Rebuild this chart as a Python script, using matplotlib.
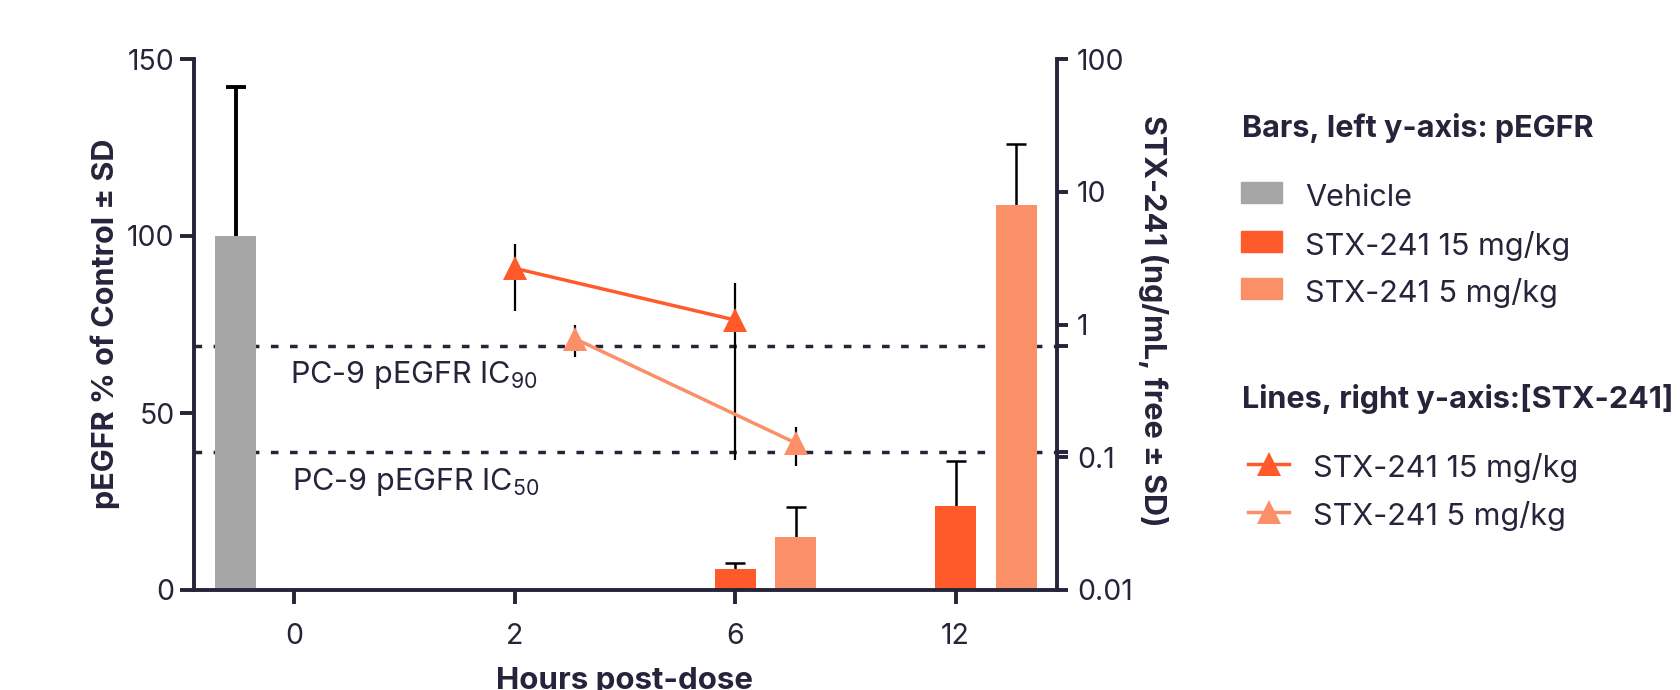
import matplotlib
matplotlib.use('Agg')
import matplotlib.pyplot as plt
from matplotlib.patches import Rectangle
from matplotlib.lines import Line2D
from matplotlib.ticker import FixedLocator, NullFormatter
import numpy as np

plt.rcParams['font.family'] = ['Inter', 'DejaVu Sans']
plt.rcParams['mathtext.fontset'] = 'custom'
plt.rcParams['mathtext.rm'] = 'Inter'
plt.rcParams['mathtext.it'] = 'Inter'
plt.rcParams['mathtext.bf'] = 'Inter:bold'

# ---------------- data ----------------
time_labels = ['0', '2', '6', '12']

vehicle_time = ['0']
vehicle_mean = [100.0]
vehicle_sd = [42.0]

bar_times = ['6', '12']
bar15_mean = [5.9, 23.7]
bar15_sd = [1.7, 12.8]
bar5_mean = [15.0, 108.8]
bar5_sd = [8.4, 17.3]

line_times = ['2', '6']
line15_mean = [2.65, 1.08]
line15_sd = [1.38, 0.985]
line5_mean = [0.78, 0.128]
line5_sd = [0.21, 0.042]

ic90 = 0.69
ic50 = 0.109

left_ticks = [0, 50, 100, 150]
right_ticks = [0.01, 0.1, 1, 10, 100]
right_ticklabels = ['0.01', '0.1', '1', '10', '100']

# ---------------- style ----------------
DARK = '#26243A'
GRAY = '#A6A6A6'
C15 = '#FF5A2A'
C5 = '#FA8F68'
W, H = 1680, 690

def fx(px):
    return px / W

def fy(py):
    return 1 - py / H

fig = plt.figure(figsize=(16.8, 6.9), dpi=100)
ax = fig.add_axes([fx(194), fy(590), fx(1057) - fx(194), fy(59) - fy(590)])
ax2 = ax.twinx()
ax.set_zorder(ax2.get_zorder() + 1)
ax.patch.set_visible(False)

pos = {t: i for i, t in enumerate(time_labels)}
off_vehicle = -0.265
off_5 = 0.275
bw = 0.186


def upper_errorbar(a, x, mean, sd, lw, cap):
    _, caps, _ = a.errorbar(x, mean, yerr=[[0] * len(sd), sd], fmt='none', ecolor='black',
                            elinewidth=lw, capsize=cap, capthick=lw, zorder=1)
    for c in caps:
        if np.allclose(c.get_ydata(), mean):
            c.set_visible(False)


# bars (left axis)
xv = [pos[t] + off_vehicle for t in vehicle_time]
x15 = [pos[t] for t in bar_times]
x5 = [pos[t] + off_5 for t in bar_times]
ax.bar(xv, vehicle_mean, width=bw, color=GRAY, zorder=2)
ax.bar(x15, bar15_mean, width=bw, color=C15, zorder=2)
ax.bar(x5, bar5_mean, width=bw, color=C5, zorder=2)
upper_errorbar(ax, xv, vehicle_mean, vehicle_sd, 2.8, 7.5)
upper_errorbar(ax, x15, bar15_mean, bar15_sd, 1.8, 7.2)
upper_errorbar(ax, x5, bar5_mean, bar5_sd, 1.8, 7.2)

# lines (right axis, log)
ax2.set_yscale('log')
lx15 = [pos[t] for t in line_times]
lx5 = [pos[t] + off_5 for t in line_times]
ax2.errorbar(lx15, line15_mean, yerr=line15_sd, color=C15, lw=2.5, marker='^', ms=17.5,
             mew=0, ecolor='black', elinewidth=1.6, capsize=8.2, capthick=1.6, zorder=3)
ax2.errorbar(lx5, line5_mean, yerr=line5_sd, color=C5, lw=2.5, marker='^', ms=17.5,
             mew=0, ecolor='black', elinewidth=1.6, capsize=8.2, capthick=1.6, zorder=3)

# IC reference lines
for v in (ic90, ic50):
    ax2.axhline(v, color=DARK, lw=2.5, dashes=(2.2, 3.3), zorder=1)

fig.text(fx(290), fy(383), r'PC-9 pEGFR IC$_{90}$', fontsize=22, color=DARK,
         va='baseline', ha='left')
fig.text(fx(292), fy(490), r'PC-9 pEGFR IC$_{50}$', fontsize=22, color=DARK,
         va='baseline', ha='left')

# axes limits/ticks
ax.set_xlim(-0.455, 3.46)
ax.set_ylim(0, 150)
ax2.set_ylim(0.01, 100)
ax.set_xticks(range(len(time_labels)))
ax.set_xticklabels(time_labels)
ax.set_yticks(left_ticks)
ax2.yaxis.set_major_locator(FixedLocator(right_ticks))
ax2.set_yticklabels(right_ticklabels)
ax2.yaxis.set_minor_locator(FixedLocator([ic50, ic90]))
ax2.yaxis.set_minor_formatter(NullFormatter())

for a in (ax, ax2):
    a.spines['top'].set_visible(False)
    for s in a.spines.values():
        s.set_linewidth(2.8)
        s.set_color(DARK)
ax.spines['right'].set_visible(False)
ax2.spines['left'].set_visible(False)
ax2.spines['bottom'].set_visible(False)

ax.tick_params(axis='y', length=10, width=2.8, color=DARK, labelsize=20.5, labelcolor=DARK, pad=4)
ax.tick_params(axis='x', length=10, width=2.8, color=DARK, labelsize=20.5, labelcolor=DARK, pad=14)
ax2.tick_params(axis='y', which='both', length=8, width=2.8, color=DARK, labelsize=20.5,
                labelcolor=DARK, pad=6.5)

# axis labels
fig.text(fx(105), fy(324), 'pEGFR % of Control ± SD', rotation=90, fontsize=22,
         fontweight='bold', color=DARK, ha='center', va='center')
fig.text(fx(1153), fy(321), 'STX-241 (ng/mL, free ± SD)', rotation=-90, fontsize=22,
         fontweight='bold', color=DARK, ha='center', va='center')
fig.text(fx(625), fy(689), 'Hours post-dose', fontsize=22.5, fontweight='bold', color=DARK,
         ha='center', va='baseline')

# legend (manual)
fig.text(fx(1242), fy(137), 'Bars, left y-axis: pEGFR', fontsize=22, fontweight='bold',
         color=DARK, va='baseline')
bar_items = [('Vehicle', GRAY, 181.7, 206), ('STX-241 15 mg/kg', C15, 231, 255),
             ('STX-241 5 mg/kg', C5, 278.3, 301.7)]
for lab, col, ytop, ybase in bar_items:
    fig.add_artist(Rectangle((fx(1241), fy(ytop + 21)), fx(41), 21 / H, color=col,
                             transform=fig.transFigure))
    fig.text(fx(1305), fy(ybase), lab, fontsize=22, color=DARK, va='baseline')

fig.text(fx(1242), fy(408), 'Lines, right y-axis:[STX-241]', fontsize=22, fontweight='bold',
         color=DARK, va='baseline')
line_items = [('STX-241 15 mg/kg', C15, 463.5, 477), ('STX-241 5 mg/kg', C5, 511.5, 525)]
for lab, col, ym, ybase in line_items:
    fig.add_artist(Line2D([fx(1248), fx(1289)], [fy(ym), fy(ym)], color=col, lw=2.5,
                          transform=fig.transFigure))
    fig.add_artist(Line2D([fx(1268.5)], [fy(ym)], color=col, marker='^', ms=17.5, mew=0,
                          transform=fig.transFigure))
    fig.text(fx(1313), fy(ybase), lab, fontsize=22, color=DARK, va='baseline')

fig.savefig('out.png', dpi=100)
